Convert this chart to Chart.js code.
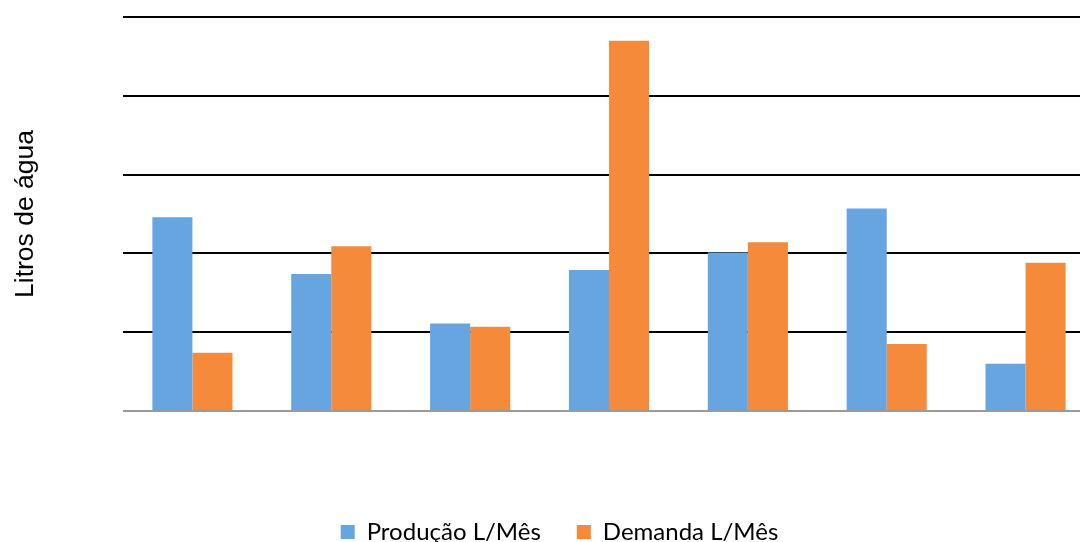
<!DOCTYPE html>
<html>
<head>
<meta charset="utf-8">
<script src="https://cdn.jsdelivr.net/npm/chart.js@4"></script>
<style>
  html, body { margin: 0; padding: 0; background: #fff; overflow: hidden; }
  #wrap { position: relative; width: 1095px; height: 542px; }
</style>
</head>
<body>
<div id="wrap"><canvas id="chart"></canvas></div>
<script>
// Categories (no labels shown in the original)
const categories = ['1', '2', '3', '4', '5', '6', '7'];

// Series values (one gridline = 1 unit)
const producao = [2.46, 1.74, 1.11, 1.79, 2.01, 2.57, 0.60];
const demanda = [0.74, 2.09, 1.07, 4.70, 2.14, 0.85, 1.88];

// Tick range for the value axis (labels hidden in the original)
const yTicks = [0, 1, 2, 3, 4, 5];

const ctx = document.getElementById('chart').getContext('2d');

new Chart(ctx, {
  type: 'bar',
  data: {
    labels: categories,
    datasets: [
      {
        label: 'Produção L/Mês',
        data: producao,
        backgroundColor: '#67A5E0',
        borderWidth: 0
      },
      {
        label: 'Demanda L/Mês',
        data: demanda,
        backgroundColor: '#F68A3B',
        borderWidth: 0
      }
    ]
  },
  options: {
    responsive: true,
    maintainAspectRatio: false,
    animation: false,
    layout: { padding: { top: 17, right: 0, bottom: -12, left: 24 } },
    datasets: {
      bar: { barPercentage: 1, categoryPercentage: 0.577 }
    },
    plugins: {
      tooltip: { enabled: false },
      legend: {
        position: 'bottom',
        labels: {
          boxWidth: 14,
          boxHeight: 14,
          padding: 36,
          color: '#000',
          font: { family: 'Lato', size: 24 }
        }
      }
    },
    scales: {
      x: {
        grid: { display: false },
        border: { display: false },
        ticks: { display: false },
        afterFit: function(scale) { scale.height = 73; }
      },
      y: {
        min: yTicks[0],
        max: yTicks[yTicks.length - 1],
        ticks: { display: false, stepSize: 1 },
        border: { display: false },
        grid: {
          lineWidth: 2,
          drawTicks: false,
          color: function(c) { return c.tick && c.tick.value === 0 ? '#9A9A9A' : '#000'; }
        },
        title: {
          display: true,
          text: 'Litros de água',
          color: '#000',
          font: { family: 'Liberation Sans', size: 26.5 },
          padding: { top: -14, bottom: 0 }
        },
        afterFit: function(scale) { scale.width = 99; }
      }
    }
  }
});
</script>
</body>
</html>
